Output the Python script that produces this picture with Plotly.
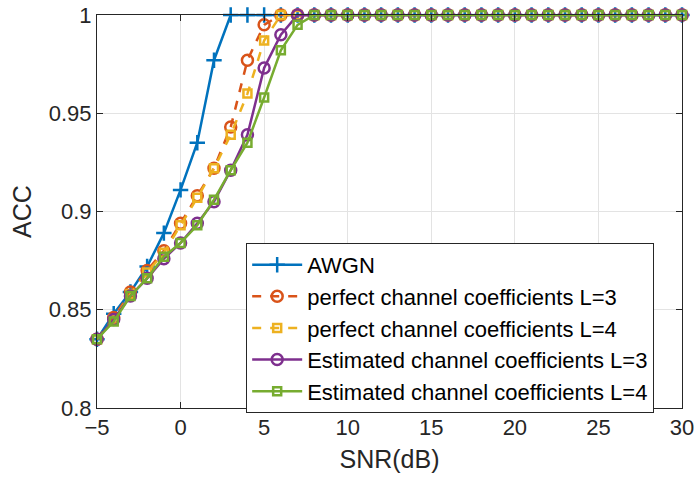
import plotly.graph_objects as go

snr = list(range(-5, 31))

awgn = [0.835, 0.848, 0.859, 0.872, 0.889, 0.911, 0.935, 0.977] + [1.0] * 28
perfect_l3 = [0.835, 0.846, 0.859, 0.870, 0.880, 0.894, 0.908, 0.922, 0.943, 0.977, 0.995] + [1.0] * 25
perfect_l4 = [0.835, 0.845, 0.858, 0.869, 0.879, 0.893, 0.907, 0.922, 0.939, 0.960, 0.987] + [1.0] * 25
estimated_l3 = [0.835, 0.845, 0.857, 0.866, 0.876, 0.884, 0.894, 0.905, 0.921, 0.939, 0.973, 0.990] + [1.0] * 24
estimated_l4 = [0.835, 0.844, 0.857, 0.866, 0.877, 0.884, 0.893, 0.906, 0.921, 0.935, 0.958, 0.982, 0.995] + [1.0] * 23

x_ticks = [-5, 0, 5, 10, 15, 20, 25, 30]
y_ticks = [0.8, 0.85, 0.9, 0.95, 1.0]
y_tick_text = ["0.8", "0.85", "0.9", "0.95", "1"]

series = [
    ("AWGN", awgn, "#0072BD", "solid", "cross-thin-open", 11),
    ("perfect channel coefficients L=3", perfect_l3, "#D95319", "dash", "circle-open", 11),
    ("perfect channel coefficients L=4", perfect_l4, "#EDB120", "dash", "square-open", 8),
    ("Estimated channel coefficients L=3", estimated_l3, "#7E2F8E", "solid", "circle-open", 11),
    ("Estimated channel coefficients L=4", estimated_l4, "#77AC30", "solid", "square-open", 8),
]

fig = go.Figure()
for i, (name, ys, color, dash, symbol, size) in enumerate(series):
    fig.add_trace(go.Scatter(
        x=snr, y=ys, name=name, mode="lines+markers",
        legendgroup=f"g{i}", cliponaxis=False,
        line=dict(color=color, width=2.5, dash=dash),
        marker=dict(symbol=symbol, size=size, color=color, line=dict(color=color, width=2.5)),
    ))

axis_common = dict(
    showline=True, linecolor="#262626", linewidth=1, mirror="ticks",
    ticks="inside", ticklen=6, tickcolor="#262626",
    showgrid=True, gridcolor="#e3e3e3", gridwidth=1, zeroline=False,
    automargin=False, ticklabeloverflow="allow",
    tickfont=dict(family="Liberation Sans, Arial", size=22, color="#262626"),
)

fig.update_layout(
    width=694, height=484,
    margin=dict(l=97, r=12, t=15, b=76),
    paper_bgcolor="white", plot_bgcolor="white",
    font=dict(family="Liberation Sans, Arial", color="#262626"),
    xaxis=dict(range=[-5, 30], tickvals=x_ticks,
               title=dict(text="SNR(dB)", font=dict(size=25), standoff=11),
               **axis_common),
    yaxis=dict(range=[0.8, 1.0], tickvals=y_ticks, ticktext=y_tick_text,
               title=dict(text="ACC", font=dict(size=25), standoff=10),
               **axis_common),
    legend=dict(
        x=0.255, y=0.42, xanchor="left", yanchor="top",
        bgcolor="white", bordercolor="#262626", borderwidth=1,
        font=dict(family="Liberation Sans, Arial", size=22, color="#000000"),
        traceorder="grouped", tracegroupgap=0, itemwidth=50,
    ),
)

fig.write_html("out.html")
